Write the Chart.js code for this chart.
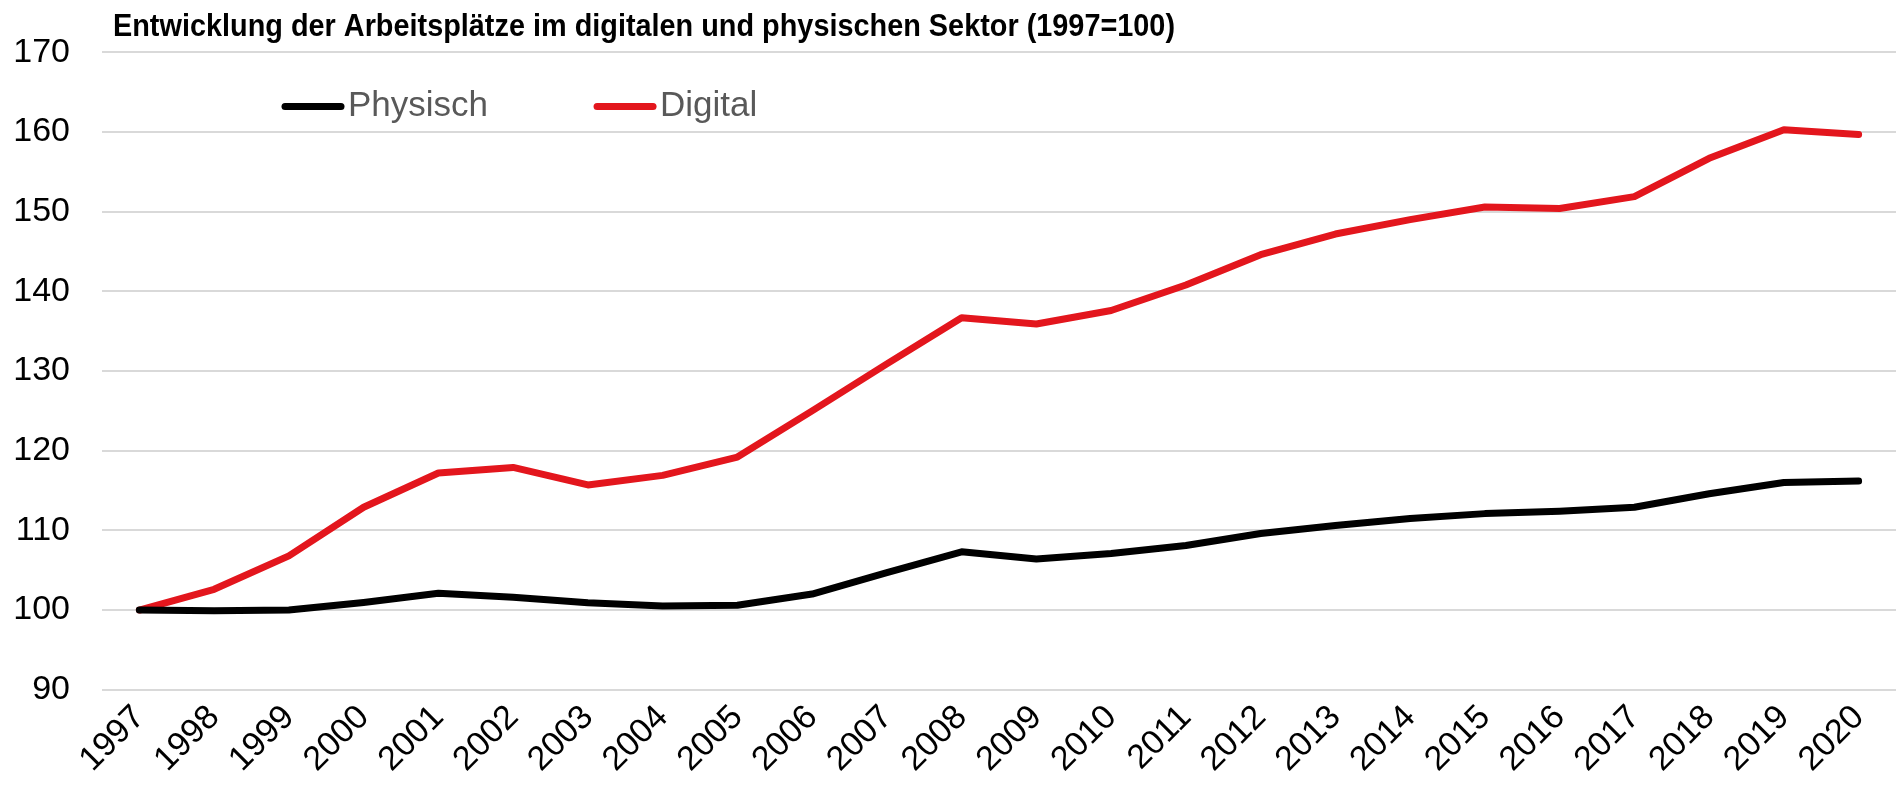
<!DOCTYPE html>
<html lang="de">
<head>
<meta charset="utf-8">
<title>Entwicklung der Arbeitsplätze</title>
<script src="https://cdn.jsdelivr.net/npm/chart.js@4"></script>
<style>
  html, body { margin: 0; padding: 0; background: #fff; }
  #wrap { width: 1900px; height: 788px; position: relative; }
</style>
</head>
<body>
<div id="wrap"><canvas id="grafikArbeitsplaetze"></canvas></div>
<script>
// Werte (1997 = 100)
const jahre = ['1997', '1998', '1999', '2000', '2001', '2002', '2003', '2004', '2005', '2006', '2007', '2008',
  '2009', '2010', '2011', '2012', '2013', '2014', '2015', '2016', '2017', '2018', '2019', '2020'];
const physisch = [100, 99.9, 100, 100.95, 102.1, 101.6, 100.9, 100.5, 100.6, 102.0, 104.7, 107.3,
  106.4, 107.1, 108.1, 109.6, 110.6, 111.5, 112.1, 112.4, 112.9, 114.6, 116.0, 116.2];
const digital = [100, 102.6, 106.8, 112.9, 117.2, 117.9, 115.7, 116.9, 119.2, 125.0, 130.9, 136.7,
  135.9, 137.6, 140.8, 144.6, 147.2, 149.0, 150.6, 150.4, 151.9, 156.7, 160.3, 159.7];
const yTicks = [90, 100, 110, 120, 130, 140, 150, 160, 170];
const titel = 'Entwicklung der Arbeitsplätze im digitalen und physischen Sektor (1997=100)';

const schrift = "'Liberation Sans', Arial, sans-serif";
Chart.defaults.font.family = schrift;
Chart.defaults.color = '#000';

// Titel in schmaler Schrift, links über dem Diagramm
const schmalerTitel = {
  id: 'schmalerTitel',
  afterDraw(chart) {
    const { ctx, chartArea } = chart;
    ctx.save();
    ctx.font = "bold 32px 'Liberation Sans Narrow', 'Liberation Sans', sans-serif";
    ctx.textBaseline = 'middle';
    ctx.fillStyle = '#000';
    const breite = ctx.measureText(titel).width;
    ctx.translate(chartArea.left + 11, 27);
    ctx.scale(1062 / breite, 1);
    ctx.fillText(titel, 0, 0);
    ctx.restore();
  }
};

// Legende liegt im Diagramm, Linie + Text wie im Original
const linienLegende = {
  id: 'linienLegende',
  afterDraw(chart) {
    const { ctx, chartArea } = chart;
    let x = chartArea.left + 180;
    const y = chartArea.top + 54;
    ctx.save();
    ctx.font = '35px ' + schrift;
    ctx.textBaseline = 'middle';
    ctx.lineCap = 'round';
    chart.data.datasets.forEach(ds => {
      ctx.strokeStyle = ds.borderColor;
      ctx.lineWidth = 7;
      ctx.beginPath();
      ctx.moveTo(x + 3, y);
      ctx.lineTo(x + 59, y);
      ctx.stroke();
      ctx.fillStyle = '#595959';
      ctx.fillText(ds.label, x + 66, y);
      x += 66 + ctx.measureText(ds.label).width + 106;
    });
    ctx.restore();
  }
};

new Chart(document.getElementById('grafikArbeitsplaetze'), {
  type: 'line',
  data: {
    labels: jahre,
    datasets: [
      {
        label: 'Physisch',
        data: physisch,
        borderColor: '#000000',
        backgroundColor: '#000000',
        borderWidth: 7,
        pointRadius: 0,
        borderCapStyle: 'round',
        borderJoinStyle: 'round'
      },
      {
        label: 'Digital',
        data: digital,
        borderColor: '#e3161d',
        backgroundColor: '#e3161d',
        borderWidth: 7,
        pointRadius: 0,
        borderCapStyle: 'round',
        borderJoinStyle: 'round'
      }
    ]
  },
  options: {
    responsive: true,
    maintainAspectRatio: false,
    animation: false,
    devicePixelRatio: 1,
    layout: { padding: { left: 15, right: 4, top: 50, bottom: 0 } },
    plugins: {
      legend: { display: false },
      tooltip: { enabled: false },
      title: { display: false }
    },
    scales: {
      x: {
        offset: true,
        grid: { display: false, drawTicks: false },
        border: { display: false },
        ticks: {
          font: { size: 34 },
          color: '#000',
          minRotation: 45,
          maxRotation: 45,
          autoSkip: false,
          padding: 8
        }
      },
      y: {
        min: 90,
        max: 170,
        grid: { color: '#d9d9d9', lineWidth: 2, drawTicks: false },
        border: { display: false },
        afterBuildTicks: axis => { axis.ticks = yTicks.map(v => ({ value: v })); },
        afterFit: axis => { axis.width = 87; },
        ticks: {
          font: { size: 34 },
          color: '#000',
          padding: 32
        }
      }
    }
  },
  plugins: [schmalerTitel, linienLegende]
});
</script>
</body>
</html>
